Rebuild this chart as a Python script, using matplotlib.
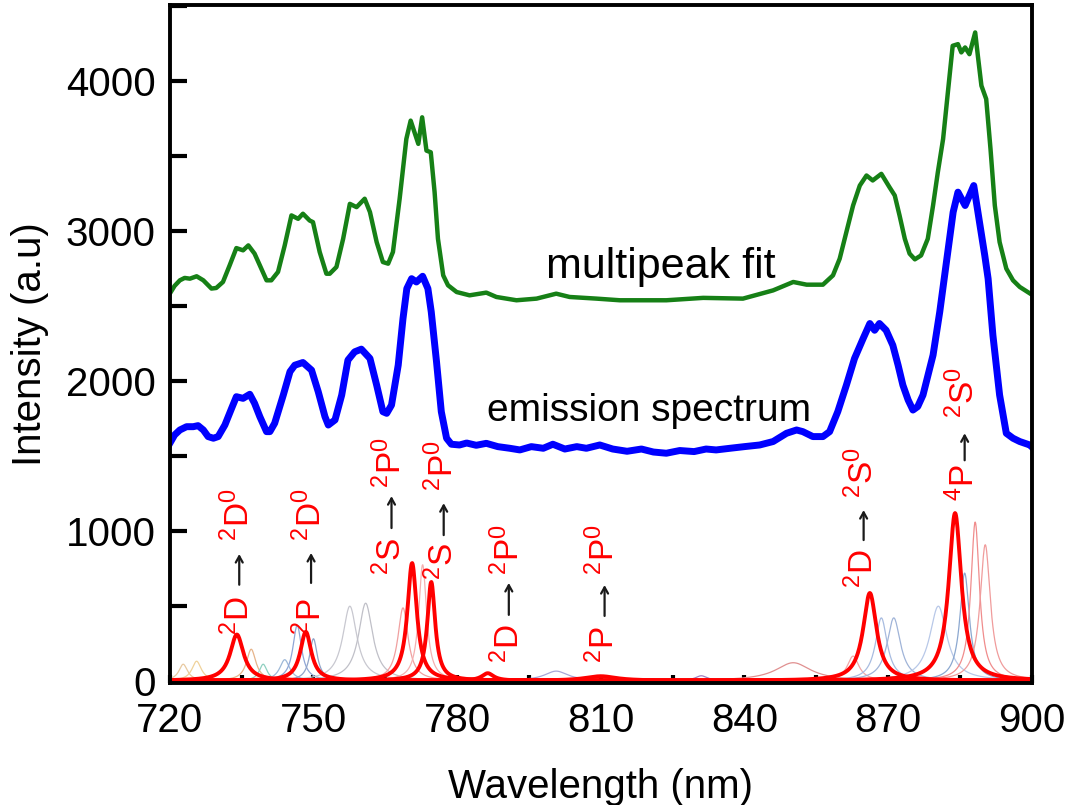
import numpy as np
import matplotlib
matplotlib.use("Agg")
import matplotlib.pyplot as plt
from matplotlib.ticker import MultipleLocator
from matplotlib.transforms import ScaledTranslation

plt.rcParams["font.family"] = ["Liberation Sans", "DejaVu Sans"]
plt.rcParams["mathtext.fontset"] = "custom"
plt.rcParams["mathtext.rm"] = "Liberation Sans"
plt.rcParams["mathtext.it"] = "Liberation Sans"

# multipeak fit (green)
fit_wl = [720.0, 721.0, 722.1, 723.1, 724.2, 725.6, 727.0, 728.7, 729.7, 731.1,
          732.5, 733.9, 735.3, 736.4, 737.7, 738.8, 740.2, 741.2, 742.6, 744.0,
          745.4, 746.8, 747.8, 749.2, 749.9, 751.3, 752.7, 753.4, 754.8, 756.2,
          757.6, 759.0, 760.7, 761.8, 763.2, 764.5, 765.6, 766.6, 768.0, 769.4,
          770.3, 771.9, 772.7, 773.6, 774.5, 775.3, 776.0, 777.1, 778.1, 779.9,
          782.6, 786.1, 788.2, 792.4, 796.6, 800.7, 803.5, 809.1, 814.0, 823.7,
          831.4, 839.7, 846.0, 850.2, 853.0, 856.4, 858.5, 859.9, 861.3, 862.7,
          864.1, 865.5, 866.8, 868.6, 870.3, 871.4, 872.4, 873.5, 874.5, 875.6,
          876.9, 878.3, 879.4, 880.4, 881.5, 882.5, 883.5, 884.6, 885.3, 886.1,
          887.0, 888.2, 888.8, 889.5, 890.5, 891.4, 892.3, 893.3, 894.7, 896.1,
          897.5, 900.0]
fit_int = [2581, 2633, 2670, 2686, 2681, 2697, 2670, 2615, 2619, 2659,
           2770, 2885, 2870, 2903, 2848, 2770, 2670, 2670, 2726, 2903,
           3103, 3080, 3114, 3069, 3058, 2859, 2714, 2714, 2759, 2947,
           3180, 3158, 3214, 3125, 2925, 2792, 2781, 2859, 3214, 3613,
           3735, 3580, 3757, 3535, 3524, 3258, 2947, 2703, 2637, 2592,
           2570, 2588, 2559, 2537, 2548, 2581, 2559, 2548, 2537, 2537,
           2553, 2548, 2603, 2659, 2641, 2641, 2703, 2814, 2992, 3169,
           3302, 3369, 3336, 3380, 3291, 3236, 3103, 2947, 2848, 2810,
           2836, 2947, 3169, 3391, 3613, 3925, 4234, 4245, 4190, 4223,
           4178, 4323, 4156, 3968, 3879, 3546, 3169, 2925, 2748, 2670,
           2626, 2575]

# measured emission spectrum (blue)
em_wl = [720.0, 721.0, 722.1, 723.5, 724.9, 725.9, 727.0, 728.0, 729.1, 730.1,
         731.5, 732.9, 733.9, 735.3, 736.7, 737.7, 738.8, 740.2, 740.9, 741.9,
         743.7, 745.1, 746.1, 747.8, 749.6, 751.0, 752.4, 753.1, 754.5, 755.9,
         757.2, 758.6, 760.0, 761.8, 763.2, 764.5, 765.3, 766.3, 767.7, 768.7,
         769.5, 770.5, 771.5, 772.8, 773.9, 774.6, 775.7, 776.7, 777.8, 778.8,
         780.5, 782.0, 784.0, 786.1, 788.5, 791.0, 793.1, 795.5, 798.0, 800.0,
         802.5, 805.0, 807.0, 809.8, 812.5, 815.5, 818.5, 821.0, 823.7, 826.5,
         829.5, 832.0, 834.1, 837.0, 840.0, 843.2, 846.0, 848.8, 850.9, 852.2,
         854.3, 856.4, 857.8, 859.5, 861.3, 863.0, 864.8, 866.2, 867.2, 868.2,
         869.6, 871.0, 872.1, 873.1, 874.2, 875.2, 876.2, 877.3, 879.4, 880.8,
         882.2, 883.6, 884.6, 886.1, 887.9, 889.1, 890.2, 890.9, 891.9, 893.3,
         894.7, 896.1, 897.5, 899.6, 900.0]
em_int = [1583, 1639, 1672, 1694, 1694, 1701, 1672, 1628, 1617, 1628,
          1705, 1816, 1894, 1883, 1910, 1850, 1761, 1661, 1661, 1717,
          1905, 2061, 2104, 2122, 2071, 1927, 1761, 1705, 1739, 1905,
          2138, 2193, 2211, 2149, 1971, 1794, 1783, 1838, 2104, 2415,
          2615, 2681, 2659, 2697, 2615, 2460, 2127, 1794, 1617, 1577,
          1572, 1585, 1570, 1583, 1561, 1550, 1539, 1561, 1550, 1577,
          1545, 1561, 1550, 1572, 1545, 1530, 1545, 1525, 1517, 1535,
          1528, 1545, 1539, 1550, 1561, 1572, 1595, 1650, 1672, 1661,
          1628, 1628, 1661, 1794, 1971, 2149, 2282, 2382, 2337, 2382,
          2337, 2237, 2104, 1971, 1872, 1805, 1828, 1905, 2171, 2460,
          2793, 3125, 3258, 3169, 3302, 3058, 2836, 2681, 2304, 1905,
          1650, 1617, 1595, 1572, 1560]

# Lorentzian fit components: centre (nm), height, FWHM (nm)
main_center = [734.0, 748.4, 770.6, 774.6, 786.4, 810.0, 866.2, 884.0]
main_height = [308, 326, 785, 659, 50, 30, 585, 1118]
main_fwhm = [3.4, 2.8, 2.4, 2.0, 3.0, 8.0, 3.4, 3.2]

faint_center = [722.8, 725.6, 737.0, 739.5, 744.0, 746.6, 750.0, 757.6, 760.9,
                768.7, 772.8, 800.7, 831.0, 850.2, 862.7, 868.6, 871.2, 880.5,
                886.0, 888.2, 890.3]
faint_height = [110, 130, 210, 110, 140, 370, 280, 497, 517,
                486, 774, 64, 33, 120, 164, 419, 419, 497,
                718, 1058, 907]
faint_fwhm = [2.2, 2.4, 2.4, 2.0, 2.6, 2.2, 2.0, 3.6, 3.6,
              2.6, 2.0, 6.0, 3.0, 9.0, 3.0, 3.0, 3.4, 4.4,
              2.4, 2.2, 2.6]
faint_color = ["#e8c9a0", "#f0d29a", "#e6b48a", "#8fd0c0", "#9db8d8", "#8fa6d6",
               "#90a4c8", "#c8c8d0", "#c0c0c8", "#f0a0a0", "#f4b0b0", "#a8a8d8",
               "#a080c0", "#e09090", "#f0a8a8", "#a8bce0", "#a0b4d8", "#b8c8e8",
               "#8ca8d0", "#f08c8c", "#f09c9c"]

# transition labels: lower term, upper term
trans_x = [734.1, 749.1, 765.9, 776.8, 790.4, 810.4, 864.5, 885.6]
trans_lower = [r"$^{2}$D", r"$^{2}$P", r"$^{2}$S", r"$^{2}$S", r"$^{2}$D",
               r"$^{2}$P", r"$^{2}$D", r"$^{4}$P"]
trans_upper = [r"$^{2}$D$^{0}$", r"$^{2}$D$^{0}$", r"$^{2}$P$^{0}$",
               r"$^{2}$P$^{0}$", r"$^{2}$P$^{0}$", r"$^{2}$P$^{0}$",
               r"$^{2}$S$^{0}$", r"$^{2}$S$^{0}$"]
# lower term start, arrow tail, arrow tip, upper term start
trans_y = [(306, 640, 845, 931), (306, 652, 852, 931), (705, 1018, 1231, 1284),
           (672, 971, 1184, 1264), (120, 439, 652, 705), (120, 432, 638, 705),
           (619, 938, 1138, 1218), (1198, 1470, 1650, 1750)]


def lorentz(x, c, h, w):
    return h / (1 + ((x - c) / (w / 2)) ** 2)


fig = plt.figure(figsize=(10.68, 8.05), dpi=100)
ax = fig.add_axes([0.159, 0.1516, 0.807, 0.842])

wl = np.linspace(720, 900, 1800)
for c, h, w, col in zip(faint_center, faint_height, faint_fwhm, faint_color):
    ax.plot(wl, lorentz(wl, c, h, w), color=col, lw=0.9)
for c, h, w in zip(main_center, main_height, main_fwhm):
    ax.plot(wl, lorentz(wl, c, h, w), color="red", lw=2.8)

ax.plot(fit_wl, fit_int, color="#168016", lw=3.2, solid_joinstyle="round")
ax.plot(em_wl, em_int, color="#0000ff", lw=5.0, solid_joinstyle="round")

ax.text(822.5, 2760, "multipeak fit", fontsize=31, ha="center", va="center")
ax.text(820.0, 1800, "emission spectrum", fontsize=28, ha="center", va="center")

# rotated text sits on its baseline, shifted so the capitals centre on x
shift = ax.transData + ScaledTranslation(8.5 / 72, 0, fig.dpi_scale_trans)
for x, lo, up, (y1, y2, y3, y4) in zip(trans_x, trans_lower, trans_upper, trans_y):
    ax.text(x, y1, lo, color="red", fontsize=24, rotation=90, transform=shift,
            rotation_mode="anchor", ha="left", va="baseline")
    ax.annotate("", xy=(x + 0.4, y3), xytext=(x + 0.4, y2),
                arrowprops=dict(arrowstyle="->,head_length=0.45,head_width=0.25",
                                color="#1a1a1a", lw=1.6, shrinkA=0, shrinkB=0))
    ax.text(x, y4, up, color="red", fontsize=24, rotation=90, transform=shift,
            rotation_mode="anchor", ha="left", va="baseline")

ax.set_xlim(720, 900)
ax.set_ylim(-15, 4505)
ax.xaxis.set_major_locator(MultipleLocator(30))
ax.xaxis.set_minor_locator(MultipleLocator(15))
ax.yaxis.set_major_locator(MultipleLocator(1000))
ax.yaxis.set_minor_locator(MultipleLocator(500))
ax.tick_params(axis="y", which="both", direction="in", length=12, width=3,
               labelsize=29, pad=10)
ax.tick_params(axis="x", which="both", direction="in", length=6, width=3,
               labelsize=29, pad=14)
for s in ax.spines.values():
    s.set_linewidth(2.8)

ax.set_xlabel("Wavelength (nm)", fontsize=29, labelpad=20)
ax.set_ylabel("Intensity (a.u)", fontsize=29, labelpad=12)

fig.savefig("out.png", dpi=100)
